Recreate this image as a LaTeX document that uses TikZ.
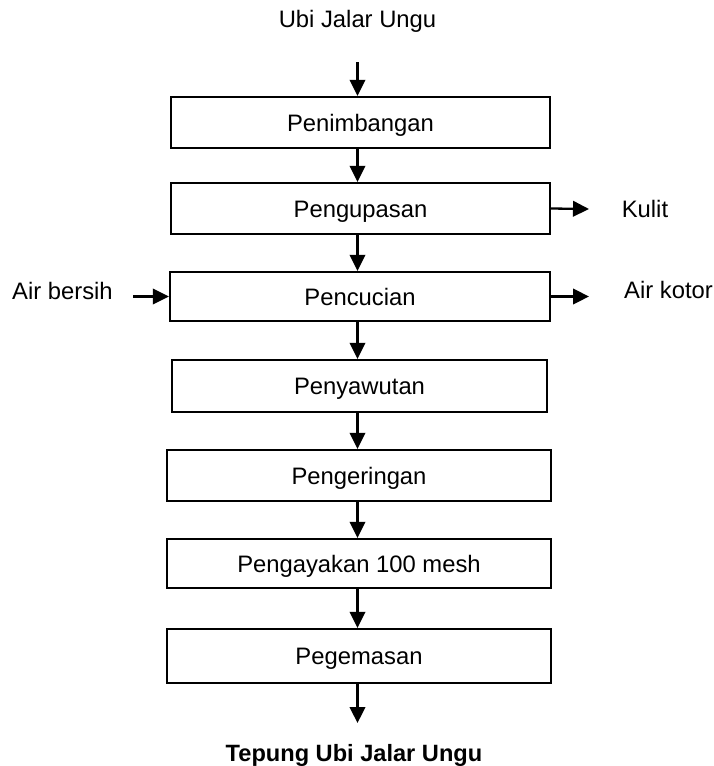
\documentclass[tikz,border=0pt]{standalone}
\usepackage{fontspec}
\setmainfont{Liberation Sans}
\usetikzlibrary{arrows.meta}
\begin{document}
\begin{tikzpicture}[x=1pt,y=-1pt,
  every node/.style={font=\fontsize{23.8}{28}\selectfont, inner sep=0pt},
  stage/.style={draw, line width=2.3pt, text height=17pt, text depth=0pt},
  lbl/.style={anchor=base},
  flow/.style={line width=2.3pt, -{Triangle[length=16pt,width=15.5pt]}}]
  \useasboundingbox (0,0) rectangle (714,766);
  \fill[white] (0,0) rectangle (714,766);

  % raw material and end product
  \node[lbl] (src) at (357.5,27) {Ubi Jalar Ungu};
  \node[lbl, font=\fontsize{23.6}{28}\selectfont\bfseries] (prod) at (354,761) {Tepung Ubi Jalar Ungu};
  \coordinate (srcend) at (357.5,62);
  \coordinate (prodend) at (357.5,723);

  % process stages (centre x, centre y, width, height)
  \node[stage, minimum width=379pt, minimum height=51pt] (b1) at (360.5,122.5) {Penimbangan};
  \node[stage, minimum width=379pt, minimum height=51pt] (b2) at (360.5,208.5) {Pengupasan};
  \node[stage, minimum width=380pt, minimum height=49pt] (b3) at (360,296.5) {Pencucian};
  \node[stage, minimum width=375pt, minimum height=52pt] (b4) at (359.5,386) {Penyawutan};
  \node[stage, minimum width=384pt, minimum height=51pt] (b5) at (359,475.5) {Pengeringan};
  \node[stage, minimum width=384pt, minimum height=49pt] (b6) at (359,563.5) {Pengayakan 100 mesh};
  \node[stage, minimum width=384pt, minimum height=54pt] (b7) at (359,656) {Pegemasan};

  % side streams
  \node[lbl] (kulit) at (645,217) {Kulit};
  \node[lbl] (bersih) at (62.5,299) {Air bersih};
  \node[lbl] (kotor) at (668.5,298) {Air kotor};
  \coordinate (kulitend) at (589,209);
  \coordinate (bersihstart) at (133,296.5);
  \coordinate (kotorend) at (589,296.5);

  % main flow
  \draw[flow] (srcend) -- (b1.north -| srcend);
  \draw[flow] (b1.south -| srcend) -- (b2.north -| srcend);
  \draw[flow] (b2.south -| srcend) -- (b3.north -| srcend);
  \draw[flow] (b3.south -| srcend) -- (b4.north -| srcend);
  \draw[flow] (b4.south -| srcend) -- (b5.north -| srcend);
  \draw[flow] (b5.south -| srcend) -- (b6.north -| srcend);
  \draw[flow] (b6.south -| srcend) -- (b7.north -| srcend);
  \draw[flow] (b7.south -| srcend) -- (prodend);

  % inputs and outputs
  \draw[flow] (b2.east) -- (kulitend);
  \draw[flow] (bersihstart) -- (b3.west);
  \draw[flow] (b3.east) -- (kotorend);
\end{tikzpicture}
\end{document}
